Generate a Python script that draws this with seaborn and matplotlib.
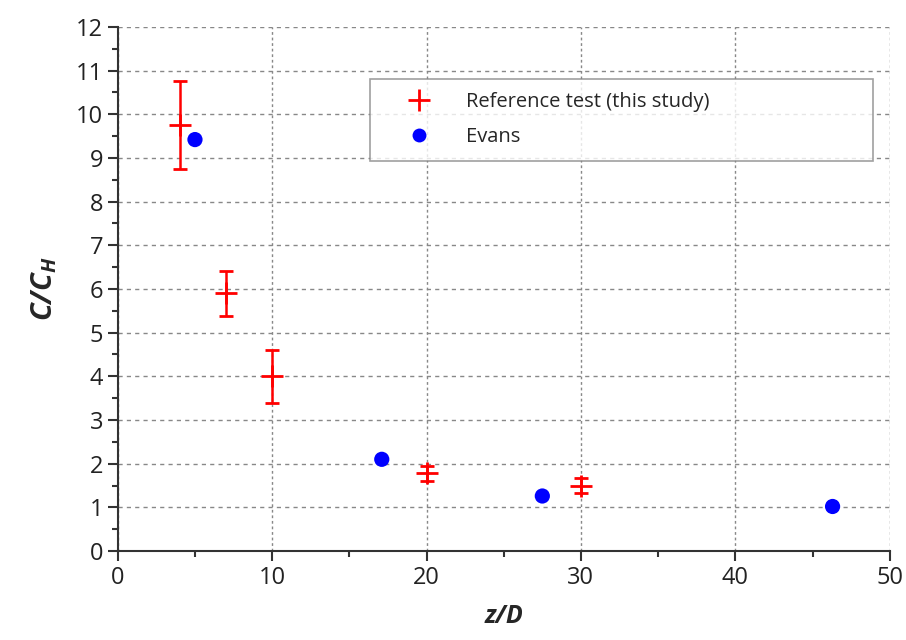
import numpy as np
import pandas as pd
import matplotlib
matplotlib.use("Agg")
import matplotlib.pyplot as plt
from matplotlib.ticker import MultipleLocator
from matplotlib.lines import Line2D
import seaborn as sns

# reference test (this study): z/D, C/C_H, error
REF_X   = [4, 7, 10, 20, 30]
REF_Y   = [9.75, 5.9, 4.0, 1.78, 1.5]
REF_ERR = [1.0, 0.52, 0.6, 0.17, 0.17]

# Evans
EVANS_X = [5.0, 17.1, 27.5, 46.3]
EVANS_Y = [9.42, 2.1, 1.26, 1.02]

sns.set_style("white")
plt.rcParams["font.family"] = ["Open Sans", "DejaVu Sans"]
plt.rcParams["mathtext.fontset"] = "custom"
plt.rcParams["mathtext.bf"] = "Open Sans:bold:italic"
plt.rcParams["mathtext.it"] = "Open Sans:bold:italic"
plt.rcParams["mathtext.rm"] = "Open Sans:bold:italic"

fig = plt.figure(figsize=(9.06, 6.4), dpi=100)
ax = fig.add_axes([0.130, 0.139, 0.852, 0.819])

ax.errorbar(REF_X, REF_Y, yerr=REF_ERR, fmt="+", color="red",
            ms=16, mew=2, elinewidth=1.8, capsize=5, capthick=1.8, zorder=3)

evans = pd.DataFrame({"z": EVANS_X, "c": EVANS_Y})
sns.scatterplot(data=evans, x="z", y="c", ax=ax, color="blue", s=120,
                edgecolor="none", zorder=3, legend=False)

ax.set_xlim(0, 50)
ax.set_ylim(0, 12)
ax.xaxis.set_major_locator(MultipleLocator(10))
ax.xaxis.set_minor_locator(MultipleLocator(5))
ax.yaxis.set_major_locator(MultipleLocator(1))
ax.yaxis.set_minor_locator(MultipleLocator(0.5))

ax.grid(False)
ax.xaxis.grid(True, which="major", color="#888888", linestyle=(0, (2, 2)), linewidth=1.0)
ax.yaxis.grid(True, which="major", color="#888888", linestyle=(0, (3, 3)), linewidth=1.0)

for s in ["top", "right"]:
    ax.spines[s].set_visible(False)
for s in ["left", "bottom"]:
    ax.spines[s].set_color("#333333")
    ax.spines[s].set_linewidth(1.5)

ax.tick_params(which="major", direction="out", length=7, width=1.5,
               color="#333333", labelsize=17, labelcolor="#222222",
               left=True, bottom=True)
ax.tick_params(which="minor", direction="out", length=4, width=1.5,
               color="#333333", left=True, bottom=True)

ax.set_xlabel("z/D", fontsize=18, fontweight="bold", style="italic", labelpad=10)
ax.set_ylabel("$\\mathbf{C/C_H}$", fontsize=21, labelpad=12)

handles = [
    Line2D([], [], linestyle="none", marker="+", color="red", ms=16, mew=2),
    Line2D([], [], linestyle="none", marker="o", color="blue", ms=10, mec="none"),
]
labels = ["Reference test (this study)", "Evans"]
leg = ax.legend(handles, labels,
                loc="upper left", bbox_to_anchor=(0.327, 0.748, 0.652, 0.152),
                mode="expand", borderaxespad=0, fontsize=14.5, frameon=True,
                fancybox=False, edgecolor="#888888", handletextpad=0.6,
                borderpad=0.65, labelspacing=0.75, handlelength=3.5)
leg.get_frame().set_linewidth(1.2)

fig.savefig("out.png", dpi=100)
